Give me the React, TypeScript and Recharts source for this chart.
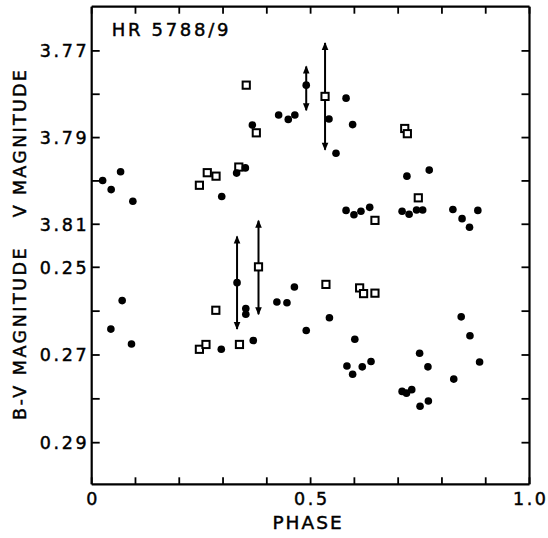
import React from 'react';
import { ScatterChart, Scatter, XAxis, YAxis } from 'recharts';

const phaseTicks = [0, 0.1, 0.2, 0.3, 0.4, 0.5, 0.6, 0.7, 0.8, 0.9, 1.0];
const phaseTickLabels = ['0', '', '', '', '', '0.5', '', '', '', '', '1.0'];
const vTicks = [3.77, 3.78, 3.79, 3.8, 3.81];
const vTickLabels = ['3.77', '', '3.79', '', '3.81'];
const bvTicks = [0.25, 0.26, 0.27, 0.28, 0.29];
const bvTickLabels = ['0.25', '', '0.27', '', '0.29'];

const titleText = 'HR 5788/9';
const vAxisTitle = 'V MAGNITUDE';
const bvAxisTitle = 'B-V MAGNITUDE';
const phaseAxisTitle = 'PHASE';

// V magnitude, filled circles
const vFilled = [
  { phase: 0.025, v: 3.7999 }, { phase: 0.0445, v: 3.802 }, { phase: 0.066, v: 3.7979 },
  { phase: 0.094, v: 3.8047 }, { phase: 0.297, v: 3.8036 }, { phase: 0.331, v: 3.7982 },
  { phase: 0.351, v: 3.797 }, { phase: 0.367, v: 3.7871 }, { phase: 0.427, v: 3.7848 },
  { phase: 0.449, v: 3.7858 }, { phase: 0.464, v: 3.7848 }, { phase: 0.49, v: 3.7779 },
  { phase: 0.542, v: 3.7857 }, { phase: 0.558, v: 3.7936 }, { phase: 0.581, v: 3.7809 },
  { phase: 0.596, v: 3.787 }, { phase: 0.72, v: 3.7989 }, { phase: 0.771, v: 3.7975 },
  { phase: 0.581, v: 3.8068 }, { phase: 0.599, v: 3.8078 }, { phase: 0.615, v: 3.807 },
  { phase: 0.635, v: 3.8061 }, { phase: 0.709, v: 3.807 }, { phase: 0.725, v: 3.8077 },
  { phase: 0.742, v: 3.8067 }, { phase: 0.756, v: 3.8067 }, { phase: 0.825, v: 3.8066 },
  { phase: 0.846, v: 3.8087 }, { phase: 0.863, v: 3.8107 }, { phase: 0.882, v: 3.8068 },
];

// V magnitude, open squares
const vOpen = [
  { phase: 0.246, v: 3.801 }, { phase: 0.264, v: 3.7981 }, { phase: 0.284, v: 3.7989 },
  { phase: 0.336, v: 3.7968 }, { phase: 0.353, v: 3.7779 }, { phase: 0.376, v: 3.7889 },
  { phase: 0.533, v: 3.7805 }, { phase: 0.715, v: 3.7879 }, { phase: 0.721, v: 3.7891 },
  { phase: 0.647, v: 3.8091 }, { phase: 0.746, v: 3.8039 },
];

// V error bars (arrow ends)
const vErrorBars = [
  { phase: 0.49, top: 3.7736, bottom: 3.7837 },
  { phase: 0.533, top: 3.7682, bottom: 3.7928 },
];

// B-V, filled circles
const bvFilled = [
  { phase: 0.0438, v: 0.2641 }, { phase: 0.0696, v: 0.2576 }, { phase: 0.0909, v: 0.2675 },
  { phase: 0.296, v: 0.2687 }, { phase: 0.332, v: 0.2535 }, { phase: 0.352, v: 0.2594 },
  { phase: 0.352, v: 0.2607 }, { phase: 0.369, v: 0.2667 }, { phase: 0.423, v: 0.2579 },
  { phase: 0.446, v: 0.2581 }, { phase: 0.463, v: 0.2545 }, { phase: 0.49, v: 0.2644 },
  { phase: 0.543, v: 0.2615 }, { phase: 0.601, v: 0.2664 }, { phase: 0.583, v: 0.2725 },
  { phase: 0.596, v: 0.2744 }, { phase: 0.618, v: 0.2727 }, { phase: 0.638, v: 0.2715 },
  { phase: 0.709, v: 0.2783 }, { phase: 0.719, v: 0.2787 }, { phase: 0.731, v: 0.2779 },
  { phase: 0.749, v: 0.2696 }, { phase: 0.768, v: 0.2727 }, { phase: 0.75, v: 0.2817 },
  { phase: 0.769, v: 0.2805 }, { phase: 0.827, v: 0.2755 }, { phase: 0.844, v: 0.2613 },
  { phase: 0.864, v: 0.2656 }, { phase: 0.886, v: 0.2716 },
];

// B-V, open squares
const bvOpen = [
  { phase: 0.246, v: 0.2687 }, { phase: 0.261, v: 0.2676 }, { phase: 0.2835, v: 0.2598 },
  { phase: 0.3375, v: 0.2676 }, { phase: 0.381, v: 0.2499 }, { phase: 0.535, v: 0.2539 },
  { phase: 0.612, v: 0.2547 }, { phase: 0.621, v: 0.256 }, { phase: 0.647, v: 0.2559 },
];

// B-V error bars (arrow ends)
const bvErrorBars = [
  { phase: 0.332, top: 0.243, bottom: 0.2641 },
  { phase: 0.381, top: 0.2394, bottom: 0.2607 },
];

const W = 548;
const H = 538;
const FONT = '"DejaVu Sans", "Liberation Sans", sans-serif';
const textBase: React.CSSProperties = { fontFamily: FONT, fill: '#000', stroke: '#000', strokeWidth: 0.45 };
const labelStyle: React.CSSProperties = { ...textBase, fontSize: 17.5, letterSpacing: 2.6 };

const lookup = (ticks: number[], labels: string[], value: number) => {
  const i = ticks.findIndex((t) => Math.abs(t - value) < 1e-6);
  return i >= 0 ? labels[i] : '';
};

const makeYTick = (ticks: number[], labels: string[]) => (props: any) => {
  const { x, y, payload } = props;
  const lab = lookup(ticks, labels, payload.value);
  if (!lab) return <g />;
  return (
    <text x={x - 2.5} y={y} dy="0.36em" textAnchor="end" style={labelStyle}>
      {lab}
    </text>
  );
};

const makeXTick = (ticks: number[], labels: string[]) => (props: any) => {
  const { x, y, payload } = props;
  const lab = lookup(ticks, labels, payload.value);
  if (!lab) return <g />;
  return (
    <text x={x + 1.3} y={y + 21} textAnchor="middle" style={labelStyle}>
      {lab}
    </text>
  );
};

const EmptyTick = () => <g />;

const Dot = (p: any) => <circle cx={p.cx} cy={p.cy} r={3.8} fill="#000" />;
const Square = (p: any) => (
  <rect x={p.cx - 3.6} y={p.cy - 3.6} width={7.2} height={7.2} fill="#fff" stroke="#000" strokeWidth={2} />
);
const Arrow = (p: any) => {
  const s = p.payload && p.payload.end === 'up' ? 1 : -1;
  return (
    <path
      d={`M${p.cx},${p.cy - s} L${p.cx - 3.3},${p.cy + 7 * s} L${p.cx + 3.3},${p.cy + 7 * s} Z`}
      fill="#000"
    />
  );
};

const barData = (b: { phase: number; top: number; bottom: number }) => [
  { phase: b.phase, v: b.top, end: 'up' },
  { phase: b.phase, v: b.bottom, end: 'down' },
];

const axisLine = { stroke: '#000', strokeWidth: 2.2 };
const tickLine = { stroke: '#000', strokeWidth: 1.8 };

const vDomain = [3.7598, 3.87];
const bvDomain = [0.19057, 0.29949];

const abs: React.CSSProperties = { position: 'absolute', left: 0, top: 0 };

export default function App() {
  return (
    <div style={{ position: 'absolute', left: 0, top: 0, width: W, height: H, background: '#fff' }}>
      {/* Top panel: V magnitude */}
      <div style={abs}>
        <ScatterChart width={W} height={H} margin={{ top: 5.7, bottom: 53.7, left: 90.7, right: 17.5 }}>
          <XAxis xAxisId="t" orientation="top" type="number" dataKey="phase" domain={[0, 1]} ticks={phaseTicks}
            interval={0} height={1} axisLine={axisLine} tickLine={tickLine} tickSize={-7} tickMargin={7}
            tick={EmptyTick} allowDataOverflow />
          <XAxis xAxisId="b" orientation="bottom" type="number" dataKey="phase" domain={[0, 1]} hide allowDataOverflow />
          <YAxis yAxisId="l" orientation="left" type="number" dataKey="v" domain={vDomain} reversed
            ticks={vTicks} interval={0} width={1} axisLine={false} tickLine={tickLine} tickSize={-8} tickMargin={8}
            tick={makeYTick(vTicks, vTickLabels)} allowDataOverflow />
          <YAxis yAxisId="r" orientation="right" type="number" dataKey="v" domain={vDomain} reversed
            ticks={vTicks} interval={0} width={1} axisLine={false} tickLine={tickLine} tickSize={-8} tickMargin={8}
            tick={EmptyTick} allowDataOverflow />
          {vErrorBars.map((b, i) => (
            <Scatter key={'ve' + i} xAxisId="b" yAxisId="l" data={barData(b)} line={{ stroke: '#000', strokeWidth: 2 }}
              lineType="joint" shape={Arrow} isAnimationActive={false} />
          ))}
          <Scatter xAxisId="b" yAxisId="l" data={vOpen} shape={Square} isAnimationActive={false} />
          <Scatter xAxisId="b" yAxisId="l" data={vFilled} shape={Dot} isAnimationActive={false} />
        </ScatterChart>
      </div>
      {/* Bottom panel: B-V */}
      <div style={abs}>
        <ScatterChart width={W} height={H} margin={{ top: 6.7, bottom: 52.7, left: 90.7, right: 17.5 }}>
          <XAxis xAxisId="b" orientation="bottom" type="number" dataKey="phase" domain={[0, 1]} ticks={phaseTicks}
            interval={0} height={1} axisLine={axisLine} tickLine={tickLine} tickSize={-7} tickMargin={7}
            tick={makeXTick(phaseTicks, phaseTickLabels)} allowDataOverflow />
          <YAxis yAxisId="l" orientation="left" type="number" dataKey="v" domain={bvDomain} reversed
            ticks={bvTicks} interval={0} width={1} axisLine={axisLine} tickLine={tickLine} tickSize={-8} tickMargin={8}
            tick={makeYTick(bvTicks, bvTickLabels)} allowDataOverflow />
          <YAxis yAxisId="r" orientation="right" type="number" dataKey="v" domain={bvDomain} reversed
            ticks={bvTicks} interval={0} width={1} axisLine={axisLine} tickLine={tickLine} tickSize={-8} tickMargin={8}
            tick={EmptyTick} allowDataOverflow />
          {bvErrorBars.map((b, i) => (
            <Scatter key={'be' + i} xAxisId="b" yAxisId="l" data={barData(b)} line={{ stroke: '#000', strokeWidth: 2 }}
              lineType="joint" shape={Arrow} isAnimationActive={false} />
          ))}
          <Scatter xAxisId="b" yAxisId="l" data={bvOpen} shape={Square} isAnimationActive={false} />
          <Scatter xAxisId="b" yAxisId="l" data={bvFilled} shape={Dot} isAnimationActive={false} />
        </ScatterChart>
      </div>
      {/* Titles */}
      <svg width={W} height={H} style={{ ...abs, pointerEvents: 'none' }}>
        <text x={111.7} y={35.5} style={{ ...textBase, fontSize: 18, letterSpacing: 2.7 }}>
          {titleText}
        </text>
        <text x={26} y={142.5} textAnchor="middle" transform="rotate(-90 26 142.5)"
          style={{ ...textBase, fontSize: 17.5, letterSpacing: 2.3 }}>
          {vAxisTitle}
        </text>
        <text x={26} y={333} textAnchor="middle" transform="rotate(-90 26 333)"
          style={{ ...textBase, fontSize: 17.5, letterSpacing: 2.5 }}>
          {bvAxisTitle}
        </text>
        <text x={308} y={529} textAnchor="middle"
          style={{ ...textBase, fontSize: 18.5, letterSpacing: 2 }}>
          {phaseAxisTitle}
        </text>
      </svg>
    </div>
  );
}
